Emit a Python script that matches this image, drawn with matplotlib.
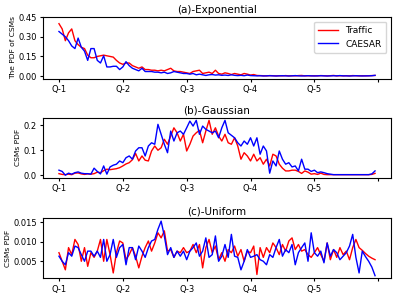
import numpy as np
import matplotlib
matplotlib.use("Agg")
import matplotlib.pyplot as plt

# x positions are bin indices, labelled as quantiles
tick_pos = [0, 20, 40, 60, 80, 100]
tick_labels = ["Q-1", "Q-2", "Q-3", "Q-4", "Q-5", ""]

# (a) exponential
exp_traffic = [0.40, 0.36, 0.27, 0.33, 0.36, 0.27, 0.24, 0.22, 0.21, 0.16,
               0.14, 0.14, 0.15, 0.155, 0.16, 0.155, 0.15, 0.145, 0.12, 0.10,
               0.09, 0.10, 0.10, 0.08, 0.07, 0.06, 0.07, 0.05, 0.05, 0.045,
               0.045, 0.04, 0.045, 0.04, 0.05, 0.06, 0.04, 0.035, 0.035, 0.03,
               0.025, 0.02, 0.035, 0.04, 0.045, 0.02, 0.025, 0.03, 0.02, 0.045,
               0.02, 0.015, 0.025, 0.02, 0.012, 0.02, 0.015, 0.01, 0.02, 0.015,
               0.008, 0.012, 0.005, 0.004, 0.003, 0.002, 0.004, 0.003, 0.002, 0.003,
               0.002, 0.004, 0.002, 0.003, 0.002, 0.004, 0.005, 0.002, 0.003, 0.002,
               0.003, 0.002, 0.004, 0.003, 0.002, 0.003, 0.005, 0.002, 0.003, 0.002,
               0.003, 0.002, 0.004, 0.003, 0.002, 0.003, 0.002, 0.003, 0.004, 0.005]
exp_caesar = [0.34, 0.32, 0.30, 0.27, 0.23, 0.21, 0.29, 0.22, 0.19, 0.12,
              0.21, 0.21, 0.12, 0.10, 0.155, 0.07, 0.07, 0.075, 0.075, 0.05,
              0.07, 0.11, 0.08, 0.06, 0.05, 0.04, 0.06, 0.035, 0.035, 0.035,
              0.03, 0.03, 0.025, 0.03, 0.02, 0.025, 0.035, 0.03, 0.025, 0.02,
              0.02, 0.015, 0.02, 0.01, 0.015, 0.01, 0.005, 0.01, 0.012, 0.008,
              0.01, 0.006, 0.008, 0.005, 0.01, 0.006, 0.004, 0.006, 0.003, 0.008,
              0.004, 0.003, 0.002, 0.003, 0.001, 0.002, 0.003, 0.002, 0.001, 0.002,
              0.003, 0.002, 0.001, 0.002, 0.004, 0.002, 0.001, 0.002, 0.003, 0.002,
              0.001, 0.002, 0.003, 0.002, 0.001, 0.002, 0.003, 0.002, 0.004, 0.002,
              0.002, 0.001, 0.002, 0.003, 0.002, 0.001, 0.002, 0.002, 0.003, 0.006]

# (b) gaussian
gau_traffic = [0.006, 0.003, 0.002, 0.004, 0.002, 0.008, 0.009, 0.005, 0.003, 0.005,
               0.004, 0.006, 0.012, 0.010, 0.018, 0.024, 0.022, 0.024, 0.026, 0.030,
               0.037, 0.045, 0.050, 0.062, 0.087, 0.057, 0.077, 0.060, 0.057, 0.097,
               0.117, 0.100, 0.110, 0.144, 0.124, 0.157, 0.190, 0.170, 0.137, 0.164,
               0.097, 0.124, 0.157, 0.170, 0.180, 0.130, 0.177, 0.220, 0.164, 0.190,
               0.157, 0.137, 0.164, 0.130, 0.124, 0.150, 0.117, 0.064, 0.090, 0.077,
               0.057, 0.084, 0.057, 0.070, 0.044, 0.064, 0.037, 0.084, 0.077, 0.044,
               0.028, 0.017, 0.017, 0.020, 0.020, 0.015, 0.007, 0.017, 0.012, 0.004,
               0.006, 0.003, 0.008, 0.003, 0.002, 0.002, 0.002, 0.002, 0.002, 0.002,
               0.002, 0.002, 0.002, 0.002, 0.002, 0.002, 0.002, 0.002, 0.003, 0.007]
gau_caesar = [0.020, 0.015, 0.000, 0.008, 0.004, 0.010, 0.013, 0.008, 0.006, 0.006,
              0.004, 0.028, 0.015, 0.005, 0.037, 0.004, 0.033, 0.040, 0.044, 0.057,
              0.050, 0.070, 0.077, 0.064, 0.097, 0.110, 0.110, 0.077, 0.117, 0.130,
              0.124, 0.204, 0.164, 0.124, 0.090, 0.177, 0.137, 0.170, 0.177, 0.164,
              0.190, 0.217, 0.197, 0.220, 0.164, 0.197, 0.184, 0.177, 0.170, 0.177,
              0.150, 0.190, 0.220, 0.170, 0.160, 0.150, 0.130, 0.117, 0.137, 0.124,
              0.150, 0.117, 0.150, 0.084, 0.117, 0.097, 0.008, 0.057, 0.037, 0.097,
              0.064, 0.044, 0.050, 0.033, 0.037, 0.017, 0.064, 0.024, 0.024, 0.015,
              0.020, 0.010, 0.013, 0.010, 0.006, 0.004, 0.002, 0.002, 0.002, 0.002,
              0.002, 0.002, 0.002, 0.002, 0.002, 0.002, 0.002, 0.002, 0.005, 0.017]

# (c) uniform
uni_traffic = [0.0072, 0.0050, 0.0028, 0.0085, 0.0067, 0.0106, 0.0093, 0.0050, 0.0085, 0.0037,
               0.0072, 0.0060, 0.0076, 0.0106, 0.0050, 0.0106, 0.0067, 0.0020, 0.0072, 0.0102,
               0.0097, 0.0054, 0.0067, 0.0085, 0.0063, 0.0033, 0.0063, 0.0085, 0.0102, 0.0076,
               0.0097, 0.0123, 0.0110, 0.0128, 0.0076, 0.0080, 0.0060, 0.0076, 0.0072, 0.0085,
               0.0072, 0.0076, 0.0093, 0.0072, 0.0093, 0.0033, 0.0085, 0.0106, 0.0072, 0.0089,
               0.0054, 0.0072, 0.0050, 0.0080, 0.0072, 0.0089, 0.0063, 0.0080, 0.0050, 0.0076,
               0.0072, 0.0089, 0.0016, 0.0085, 0.0060, 0.0085, 0.0072, 0.0097, 0.0085, 0.0067,
               0.0093, 0.0076, 0.0102, 0.0110, 0.0080, 0.0093, 0.0076, 0.0080, 0.0067, 0.0060,
               0.0072, 0.0085, 0.0067, 0.0050, 0.0097, 0.0054, 0.0080, 0.0060, 0.0085, 0.0067,
               0.0076, 0.0054, 0.0085, 0.0106, 0.0085, 0.0078, 0.0070, 0.0063, 0.0058, 0.0054]
uni_caesar = [0.0063, 0.0050, 0.0041, 0.0072, 0.0063, 0.0089, 0.0085, 0.0067, 0.0050, 0.0076,
              0.0076, 0.0063, 0.0076, 0.0060, 0.0106, 0.0050, 0.0067, 0.0106, 0.0060, 0.0085,
              0.0093, 0.0041, 0.0085, 0.0085, 0.0054, 0.0089, 0.0076, 0.0060, 0.0085, 0.0102,
              0.0106, 0.0132, 0.0153, 0.0115, 0.0067, 0.0085, 0.0060, 0.0076, 0.0063, 0.0076,
              0.0054, 0.0076, 0.0085, 0.0097, 0.0063, 0.0076, 0.0110, 0.0060, 0.0067, 0.0115,
              0.0050, 0.0063, 0.0093, 0.0060, 0.0119, 0.0063, 0.0060, 0.0028, 0.0050, 0.0080,
              0.0060, 0.0063, 0.0067, 0.0054, 0.0050, 0.0041, 0.0067, 0.0060, 0.0085, 0.0106,
              0.0063, 0.0080, 0.0072, 0.0093, 0.0041, 0.0072, 0.0085, 0.0097, 0.0050, 0.0123,
              0.0072, 0.0063, 0.0076, 0.0046, 0.0097, 0.0063, 0.0080, 0.0072, 0.0054, 0.0063,
              0.0072, 0.0089, 0.0119, 0.0060, 0.0020, 0.0076, 0.0062, 0.0050, 0.0035, 0.0013]

fig = plt.figure(figsize=(3.96, 3.0), dpi=100)
ax1 = fig.add_axes([0.109, 0.738, 0.878, 0.205])
ax2 = fig.add_axes([0.109, 0.407, 0.878, 0.201])
ax3 = fig.add_axes([0.109, 0.072, 0.878, 0.200])

panels = [
    (ax1, exp_traffic, exp_caesar, "(a)-Exponential", "The PDF of CSMs"),
    (ax2, gau_traffic, gau_caesar, "(b)-Gaussian", "CSMs PDF"),
    (ax3, uni_traffic, uni_caesar, "(c)-Uniform", "CSMs PDF"),
]

for ax, tr, ca, title, ylab in panels:
    ax.plot(np.arange(len(tr)), tr, color="r", lw=1.0, label="Traffic")
    ax.plot(np.arange(len(ca)), ca, color="b", lw=1.0, label="CAESAR")
    ax.set_title(title, fontsize=7.5, pad=3)
    ax.set_ylabel(ylab, fontsize=5.4, labelpad=2)
    ax.set_xticks(tick_pos)
    ax.set_xticklabels(tick_labels)
    ax.tick_params(labelsize=6, length=2.5, pad=2)

ax1.set_yticks([0.0, 0.15, 0.30, 0.45])
ax1.set_yticklabels(["0.00", "0.15", "0.30", "0.45"])
ax2.set_yticks([0.0, 0.1, 0.2])
ax3.set_yticks([0.005, 0.010, 0.015])
ax1.legend(loc="upper right", fontsize=6.5, handlelength=2.2, borderpad=0.5)

fig.savefig("out.png", dpi=100)
